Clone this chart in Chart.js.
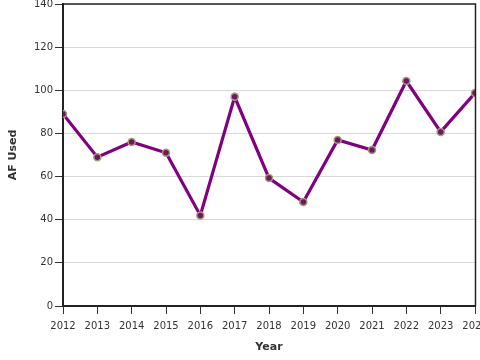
<!DOCTYPE html>
<html><head><meta charset="utf-8">
<script src="https://cdn.jsdelivr.net/npm/chart.js@4"></script>
<style>html,body{margin:0;padding:0;background:#fff;overflow:hidden}#w{width:480px;height:360px}</style>
</head><body><div id="w"><canvas id="c"></canvas></div>
<script>
const years = [2012,2013,2014,2015,2016,2017,2018,2019,2020,2021,2022,2023,2024];
const afUsed = [89,69,76,71,42,97,59.3,48.2,77,72.3,104.3,80.7,98.7];
const yTicks = [0,20,40,60,80,100,120,140];

const frame = {
  id:'frame',
  afterDatasetsDraw(chart){
    const {ctx, chartArea:a} = chart;
    ctx.save();
    ctx.strokeStyle='#222'; ctx.lineWidth=1.5;
    ctx.beginPath();
    ctx.moveTo(a.left, a.top); ctx.lineTo(a.right+0.5, a.top);
    ctx.lineTo(a.right+0.5, a.bottom);
    ctx.stroke();
    ctx.restore();
  }
};

new Chart(document.getElementById('c'), {
  type:'line',
  data:{ datasets:[{
    data: years.map((y,i)=>({x:y, y:afUsed[i]})),
    borderColor:'#800080', borderWidth:3.2,
    pointBackgroundColor:'#6a1a5e', pointBorderColor:'#a8987a',
    pointBorderWidth:1.5, pointRadius:3.5, tension:0
  }]},
  options:{
    responsive:true, maintainAspectRatio:false, animation:false,
    layout:{autoPadding:false, padding:{top:4,right:5,left:0,bottom:0}},
    plugins:{legend:{display:false}, tooltip:{enabled:false}},
    scales:{
      x:{ type:'linear', min:2012, max:2024,
        afterBuildTicks: s => { s.ticks = years.map(v=>({value:v})); },
        afterFit: s => { s.paddingRight = 0; s.paddingLeft = 0; s.height = 54; },
        ticks:{ font:{family:'DejaVu Sans', size:10}, color:'#333', padding:6, maxRotation:0, autoSkip:false,
          callback: v => String(v) },
        grid:{ drawOnChartArea:false, color:'#333', tickLength:8, tickWidth:1 },
        border:{ color:'#222', width:2 },
        title:{ display:true, text:'Year', font:{family:'DejaVu Sans', size:11, weight:'bold'}, color:'#333', padding:{top:4,bottom:6} }
      },
      y:{ min:0, max:140,
        afterBuildTicks: s => { s.ticks = yTicks.map(v=>({value:v})); },
        afterFit: s => { s.width = 63; s.paddingTop = 0; s.paddingBottom = 0; },
        ticks:{ font:{family:'DejaVu Sans', size:10}, color:'#333', padding:2 },
        grid:{ color:'#d8d8d8', tickColor:'#333', tickLength:8, tickWidth:1 },
        border:{ color:'#222', width:2 },
        title:{ display:true, text:'AF Used', font:{family:'DejaVu Sans', size:11, weight:'bold'}, color:'#333', padding:{top:7,bottom:4} }
      }
    }
  },
  plugins:[frame]
});
</script></body></html>
